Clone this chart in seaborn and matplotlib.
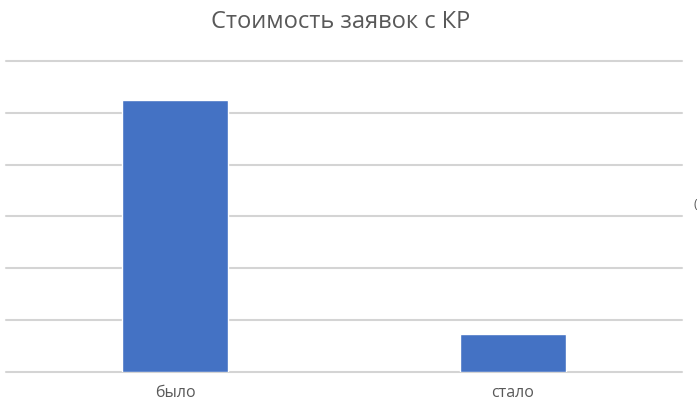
import matplotlib
matplotlib.use("Agg")
import matplotlib.pyplot as plt
import seaborn as sns
import pandas as pd

categories = ["было", "стало"]
values = [5.25, 0.73]
title = "Стоимость заявок с КР"

sns.set_theme(style="white")
plt.rcParams["font.family"] = ["Open Sans", "DejaVu Sans"]

W, H = 697, 404
fig = plt.figure(figsize=(W / 100, H / 100), dpi=100)
ax = fig.add_axes([6 / W, (H - 371.5) / H, (682 - 6) / W, (371.5 - 61) / H])

df = pd.DataFrame({"cat": categories, "val": values})
sns.barplot(data=df, x="cat", y="val", color="#4472C4", saturation=1,
            width=0.315, ax=ax, zorder=3)

ax.set_ylim(0, 6)
ax.set_xlim(-0.5, 1.5)
ax.set_yticks(range(0, 7))
ax.set_yticklabels([])
ax.tick_params(axis="y", length=0)
ax.tick_params(axis="x", length=0, pad=10, labelsize=11.5, labelcolor="#595959")
ax.grid(axis="y", color="#d4d4d4", linewidth=1.5, zorder=0)
ax.grid(axis="x", visible=False)
for gl in ax.get_ygridlines():
    gl.set_clip_on(False)
for s in ax.spines.values():
    s.set_visible(False)
ax.set_xlabel("")
ax.set_ylabel("")

fig.text(341 / W, 1 - 21.5 / H, title, ha="center", va="center",
         fontsize=17, color="#595959")
fig.text(694 / W, 1 - 205 / H, "(", ha="left", va="center",
         fontsize=9, color="#595959")

fig.savefig("out.png", dpi=100)
